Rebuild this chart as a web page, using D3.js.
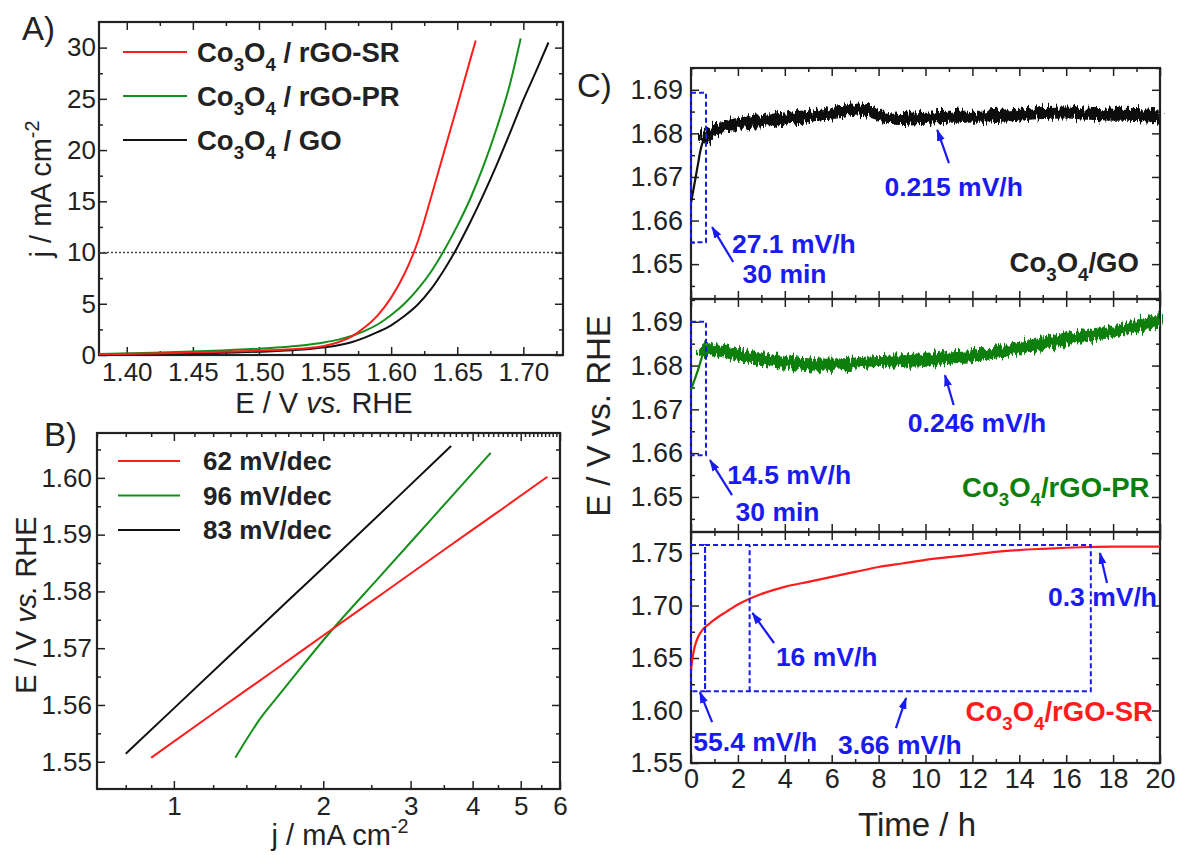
<!DOCTYPE html>
<html>
<head>
<meta charset="utf-8">
<script src="https://cdn.jsdelivr.net/npm/d3@7"></script>
<style>
    body { margin: 0; background: #fff; }
    svg text { font-family: "Liberation Sans", Arial, Helvetica, sans-serif; fill: #222; }
    .tick text { fill: #222; }
    .tick line { stroke: #222; stroke-width: 1.5; }
</style>
</head>
<body>
<svg id="chart" width="1179" height="855"></svg>
<script>
'use strict';

// A) polarization curves: E (V vs. RHE) and j (mA cm-2)
var lsvE_SR = [1.379, 1.42, 1.46, 1.50, 1.53, 1.55, 1.56, 1.57, 1.58, 1.59, 1.60, 1.61, 1.62, 1.63, 1.64, 1.65, 1.66, 1.664];
var lsvJ_SR = [0.08, 0.15, 0.28, 0.42, 0.6, 0.9, 1.25, 1.8, 2.7, 3.9, 5.6, 7.9, 11.0, 15.3, 19.8, 24.3, 28.9, 30.7];
var lsvE_PR = [1.379, 1.42, 1.46, 1.50, 1.53, 1.55, 1.56, 1.57, 1.58, 1.59, 1.60, 1.61, 1.62, 1.63, 1.64, 1.65, 1.66, 1.67, 1.68, 1.69, 1.698];
var lsvJ_PR = [0.1, 0.22, 0.38, 0.62, 0.9, 1.25, 1.5, 1.85, 2.35, 3.0, 3.9, 5.0, 6.4, 8.1, 10.2, 12.6, 15.3, 18.5, 22.2, 26.5, 30.9];
var lsvE_GO = [1.379, 1.42, 1.46, 1.50, 1.53, 1.55, 1.56, 1.57, 1.58, 1.59, 1.60, 1.61, 1.62, 1.63, 1.64, 1.65, 1.66, 1.67, 1.68, 1.69, 1.70, 1.71, 1.719];
var lsvJ_GO = [0.05, 0.1, 0.18, 0.32, 0.5, 0.75, 0.95, 1.25, 1.7, 2.25, 2.9, 3.8, 4.9, 6.4, 8.3, 10.5, 13.0, 15.7, 18.6, 21.7, 24.9, 27.8, 30.5];
var lsvNames = ['/ rGO-SR', '/ rGO-PR', '/ GO'];

// B) Tafel plots: j (mA cm-2, log) and E (V vs. RHE)
var tafelJ_SR = [0.90, 1.2, 1.6, 2.05, 2.7, 3.5, 4.5, 5.66];
var tafelE_SR = [1.5507, 1.5585, 1.5662, 1.5729, 1.5803, 1.5873, 1.5940, 1.6002];
var tafelJ_PR = [1.33, 1.41, 1.49, 1.62, 1.80, 2.05, 2.6, 3.3, 4.35];
var tafelE_PR = [1.5507, 1.5543, 1.5575, 1.5615, 1.5665, 1.5725, 1.5826, 1.5927, 1.6044];
var tafelJ_GO = [0.80, 1.0, 1.3, 1.7, 2.2, 2.8, 3.62];
var tafelE_GO = [1.5514, 1.5594, 1.5688, 1.5784, 1.5876, 1.5963, 1.6056];
var tafelSlopes = ['62 mV/dec', '96 mV/dec', '83 mV/dec'];

// C) chronopotentiometry: time (h) and E (V vs. RHE)
var cpT_GO = [0, 0.1, 0.2, 0.3, 0.4, 0.5, 0.7, 1, 1.5, 2, 3, 4, 5, 6, 6.5, 7, 7.5, 8, 8.5, 9, 10, 11, 12, 13, 14, 15, 16, 17, 18, 19, 20];
var cpE_GO = [1.664, 1.667, 1.670, 1.673, 1.676, 1.678, 1.6795, 1.6808, 1.6815, 1.6822, 1.6828, 1.6834, 1.684, 1.6846, 1.685, 1.6855, 1.6852, 1.6844, 1.6835, 1.6833, 1.6836, 1.6838, 1.6838, 1.684, 1.6843, 1.6847, 1.6848, 1.6845, 1.6843, 1.6842, 1.6838];
var cpT_PR = [0, 0.1, 0.3, 0.5, 0.6, 1, 2, 3, 4, 5, 6, 7, 8, 9, 10, 11, 12, 13, 14, 15, 16, 17, 18, 19, 20];
var cpE_PR = [1.6745, 1.676, 1.679, 1.6825, 1.6838, 1.6836, 1.6825, 1.6815, 1.6808, 1.6803, 1.6802, 1.6805, 1.6808, 1.681, 1.6813, 1.6818, 1.6822, 1.683, 1.684, 1.685, 1.686, 1.687, 1.6878, 1.689, 1.6903];
var cpT_SR = [0, 0.05, 0.15, 0.3, 0.5, 0.75, 1, 1.5, 2, 2.5, 3, 4, 5, 6, 7, 8, 9, 10, 11, 12, 13, 14, 15, 16, 17, 18, 19, 20];
var cpE_SR = [1.638, 1.648, 1.660, 1.670, 1.677, 1.682, 1.6865, 1.694, 1.701, 1.7065, 1.711, 1.7178, 1.7225, 1.7273, 1.732, 1.7367, 1.740, 1.7434, 1.746, 1.7485, 1.751, 1.7528, 1.754, 1.755, 1.7557, 1.756, 1.756, 1.756];

var RED = '#ff1c1c', GREEN = '#14901a', GREEN_C = '#0a7f0a', BLACK = '#111', BLUE = '#1a1af2';

var svg = d3.select('#chart');

var defs = svg.append('defs');
defs.append('marker')
    .attr('id', 'arrow')
    .attr('viewBox', '0 0 12 8')
    .attr('refX', 11).attr('refY', 4)
    .attr('markerWidth', 12).attr('markerHeight', 8)
    .attr('markerUnits', 'userSpaceOnUse')
    .attr('orient', 'auto')
    .append('path').attr('d', 'M0,0 L12,4 L0,8 Z').attr('fill', BLUE);

// rough edge for the noisy traces in C)
var jitter = defs.append('filter')
    .attr('id', 'jitter')
    .attr('filterUnits', 'userSpaceOnUse')
    .attr('x', 0).attr('y', 0).attr('width', 1179).attr('height', 855);
jitter.append('feTurbulence')
    .attr('type', 'fractalNoise').attr('baseFrequency', '0.5 0.05')
    .attr('numOctaves', 2).attr('seed', 4).attr('result', 'n');
jitter.append('feDisplacementMap')
    .attr('in', 'SourceGraphic').attr('in2', 'n').attr('scale', 14)
    .attr('xChannelSelector', 'R').attr('yChannelSelector', 'G');

function zip(xs, ys) {
    return xs.map(function (v, i) { return [v, ys[i]]; });
}

function drawAxes(x, y, o) {
    var left = x.range()[0], right = x.range()[1],
        bottom = y.range()[0], top = y.range()[1];

    var g = svg.append('g').style('font-size', o.font + 'px');

    function add(axis, tr) {
        var a = g.append('g').attr('transform', tr).call(axis);
        a.select('.domain').remove();
        a.selectAll('text').style('font-size', o.font + 'px');
        return a;
    }

    add(d3.axisBottom(x).tickValues(o.xMajor).tickSize(-8).tickPadding(o.xPad || 8)
        .tickFormat(o.showX ? o.xFmt : ''), 'translate(0,' + bottom + ')');
    add(d3.axisBottom(x).tickValues(o.xMinor).tickSize(-4).tickFormat(''), 'translate(0,' + bottom + ')');
    add(d3.axisTop(x).tickValues(o.xMajor).tickSize(-8).tickFormat(''), 'translate(0,' + top + ')');
    add(d3.axisTop(x).tickValues(o.xMinorTop || o.xMinor).tickSize(-4).tickFormat(''), 'translate(0,' + top + ')');

    add(d3.axisLeft(y).tickValues(o.yMajor).tickSize(-8).tickPadding(o.yPad || 6)
        .tickFormat(o.yFmt), 'translate(' + left + ',0)');
    add(d3.axisLeft(y).tickValues(o.yMinor).tickSize(-4).tickFormat(''), 'translate(' + left + ',0)');
    add(d3.axisRight(y).tickValues(o.yMajor).tickSize(-8).tickFormat(''), 'translate(' + right + ',0)');
    add(d3.axisRight(y).tickValues(o.yMinor).tickSize(-4).tickFormat(''), 'translate(' + right + ',0)');

    g.append('rect')
        .attr('x', left).attr('y', top)
        .attr('width', right - left).attr('height', bottom - top)
        .attr('fill', 'none').attr('stroke', '#222').attr('stroke-width', 2.2);
}

function chemLabel(sel, tail, size) {
    sel.append('tspan').text('Co');
    sel.append('tspan').attr('dy', size * 0.32).attr('font-size', size * 0.68).text('3');
    sel.append('tspan').attr('dy', -size * 0.32).text('O');
    sel.append('tspan').attr('dy', size * 0.32).attr('font-size', size * 0.68).text('4');
    sel.append('tspan').attr('dy', -size * 0.32).text(tail);
    return sel;
}

function potentialLabel(sel, italic) {
    sel.append('tspan').text('E / V ');
    sel.append('tspan').attr('font-style', italic === false ? 'normal' : 'italic').text('vs.');
    sel.append('tspan').text(' RHE');
    return sel;
}

function currentLabel(sel, size) {
    sel.append('tspan').text('j / mA cm');
    sel.append('tspan').attr('dy', -size * 0.4).attr('font-size', size * 0.68).text('-2');
    return sel;
}

function panelTag(x, y, s) {
    svg.append('text').attr('x', x).attr('y', y)
        .style('font-size', '33px').text(s);
}

function trace(x, y, pts, color, width, curve) {
    return svg.append('path')
        .datum(pts)
        .attr('fill', 'none')
        .attr('stroke', color)
        .attr('stroke-width', width)
        .attr('stroke-linejoin', 'round')
        .attr('d', d3.line()
            .x(function (d) { return x(d[0]); })
            .y(function (d) { return y(d[1]); })
            .curve(curve || d3.curveMonotoneX));
}

/* ---------- A) ---------- */
var xA = d3.scaleLinear().domain([1.379, 1.730]).range([99, 563]);
var yA = d3.scaleLinear().domain([0, 32.5]).range([355, 22]);

drawAxes(xA, yA, {
    font: 26,
    xMajor: d3.range(1.40, 1.701, 0.05), xMinor: d3.range(1.425, 1.73, 0.05),
    showX: true, xFmt: d3.format('.2f'), xPad: 8,
    yMajor: d3.range(0, 31, 5), yMinor: d3.range(2.5, 32.5, 5),
    yFmt: d3.format('d'), yPad: 3
});

svg.append('line')
    .attr('x1', xA.range()[0]).attr('x2', xA.range()[1])
    .attr('y1', yA(10)).attr('y2', yA(10))
    .attr('stroke', '#444').attr('stroke-width', 1.5).attr('stroke-dasharray', '2,2');

trace(xA, yA, zip(lsvE_GO, lsvJ_GO), BLACK, 2);
trace(xA, yA, zip(lsvE_PR, lsvJ_PR), GREEN, 2);
trace(xA, yA, zip(lsvE_SR, lsvJ_SR), RED, 2);

[RED, GREEN, BLACK].forEach(function (c, i) {
    var yy = 52 + i * 44;
    svg.append('line').attr('x1', 123).attr('x2', 187).attr('y1', yy).attr('y2', yy)
        .attr('stroke', c).attr('stroke-width', 2);
    chemLabel(svg.append('text').attr('x', 197).attr('y', yy + 10)
        .style('font-size', '27.5px').style('font-weight', 'bold'), ' ' + lsvNames[i], 27.5);
});

panelTag(22, 40, 'A)');
svg.append('text').attr('x', 324).attr('y', 413).attr('text-anchor', 'middle')
    .style('font-size', '29px').call(potentialLabel);
svg.append('text').attr('transform', 'translate(51,189) rotate(-90)').attr('text-anchor', 'middle')
    .style('font-size', '29px').call(currentLabel, 29);

/* ---------- B) ---------- */
var xB = d3.scaleLog().domain([0.7, 6.0]).range([97, 560]);
var yB = d3.scaleLinear().domain([1.5452, 1.6079]).range([789, 433]);

drawAxes(xB, yB, {
    font: 26,
    xMajor: [1, 2, 3, 4, 5, 6],
    xMinor: [0.8, 0.9, 1.2, 1.4, 1.6, 1.8, 2.5, 3.5, 4.5, 5.5],
    xMinorTop: d3.range(0.7, 6.0, 0.1).filter(function (v) { return Math.abs(v - Math.round(v)) > 0.01; }),
    showX: true, xFmt: d3.format('d'), xPad: 8,
    yMajor: d3.range(1.55, 1.6001, 0.01), yMinor: d3.range(1.555, 1.6075, 0.01),
    yFmt: d3.format('.2f'), yPad: 5
});

trace(xB, yB, zip(tafelJ_GO, tafelE_GO), BLACK, 2);
trace(xB, yB, zip(tafelJ_PR, tafelE_PR), GREEN, 2);
trace(xB, yB, zip(tafelJ_SR, tafelE_SR), RED, 2);

[RED, GREEN, BLACK].forEach(function (c, i) {
    var yy = 461 + i * 34.5;
    svg.append('line').attr('x1', 118).attr('x2', 180).attr('y1', yy).attr('y2', yy)
        .attr('stroke', c).attr('stroke-width', 2);
    svg.append('text').attr('x', 203).attr('y', yy + 9)
        .style('font-size', '26px').style('font-weight', 'bold').text(tafelSlopes[i]);
});

panelTag(44, 446, 'B)');
svg.append('text').attr('x', 340).attr('y', 845).attr('text-anchor', 'middle')
    .style('font-size', '29px').call(currentLabel, 29);
svg.append('text').attr('transform', 'translate(36,605) rotate(-90)').attr('text-anchor', 'middle')
    .style('font-size', '29px').call(potentialLabel);

/* ---------- C) ---------- */
var xC = d3.scaleLinear().domain([0, 20]).range([691, 1160]);
var yC1 = d3.scaleLinear().domain([1.642, 1.695]).range([299, 68]);
var yC2 = d3.scaleLinear().domain([1.642, 1.6952]).range([532, 299]);
var yC3 = d3.scaleLinear().domain([1.55, 1.77]).range([763, 532]);

var cx = { font: 27, xMajor: d3.range(0, 21, 2), xMinor: d3.range(1, 20, 2), xFmt: d3.format('d'), xPad: 6 };

drawAxes(xC, yC1, Object.assign({}, cx, {
    showX: false, yMajor: d3.range(1.65, 1.6901, 0.01), yMinor: d3.range(1.645, 1.695, 0.01),
    yFmt: d3.format('.2f'), yPad: 8
}));
drawAxes(xC, yC2, Object.assign({}, cx, {
    showX: false, yMajor: d3.range(1.65, 1.6901, 0.01), yMinor: d3.range(1.645, 1.695, 0.01),
    yFmt: d3.format('.2f'), yPad: 8
}));
drawAxes(xC, yC3, Object.assign({}, cx, {
    showX: true, yMajor: d3.range(1.55, 1.7501, 0.05), yMinor: d3.range(1.575, 1.77, 0.05),
    yFmt: d3.format('.2f'), yPad: 8
}));

function noisy(y, ts, es, color) {
    var pts = zip(ts, es);
    trace(xC, y, pts.filter(function (d) { return d[0] <= 0.7; }), color, 2.2);
    trace(xC, y, pts.filter(function (d) { return d[0] >= 0.5; }), color, 12)
        .attr('filter', 'url(#jitter)');
}

noisy(yC1, cpT_GO, cpE_GO, BLACK);
noisy(yC2, cpT_PR, cpE_PR, GREEN_C);
trace(xC, yC3, zip(cpT_SR, cpE_SR), RED, 2.2);

function box(y, t0, t1, e0, e1) {
    svg.append('rect')
        .attr('x', xC(t0)).attr('y', y(e1))
        .attr('width', xC(t1) - xC(t0)).attr('height', y(e0) - y(e1))
        .attr('fill', 'none').attr('stroke', BLUE).attr('stroke-width', 2)
        .attr('stroke-dasharray', '5,3');
}

function vline(y, t, e0, e1) {
    svg.append('line')
        .attr('x1', xC(t)).attr('x2', xC(t)).attr('y1', y(e0)).attr('y2', y(e1))
        .attr('stroke', BLUE).attr('stroke-width', 2).attr('stroke-dasharray', '5,3');
}

function arrow(y, t0, e0, t1, e1) {
    svg.append('line')
        .attr('x1', xC(t0)).attr('y1', y(e0)).attr('x2', xC(t1)).attr('y2', y(e1))
        .attr('stroke', BLUE).attr('stroke-width', 2.2).attr('marker-end', 'url(#arrow)');
}

function note(y, t, e, s, anchor) {
    return svg.append('text').attr('x', xC(t)).attr('y', y(e))
        .attr('text-anchor', anchor || 'start')
        .style('font-size', '26.5px').style('font-weight', 'bold').style('fill', BLUE).text(s);
}

// top: Co3O4/GO
box(yC1, 0, 0.64, 1.655, 1.6893);
arrow(yC1, 1.8, 1.6505, 0.9, 1.6585);
arrow(yC1, 11.0, 1.6732, 10.5, 1.6808);
note(yC1, 1.75, 1.6526, '27.1 mV/h');
note(yC1, 2.2, 1.6457, '30 min');
note(yC1, 11.2, 1.6656, '0.215 mV/h', 'middle');
chemLabel(svg.append('text').attr('x', xC(19.1)).attr('y', yC1(1.6482)).attr('text-anchor', 'end')
    .style('font-size', '27.5px').style('font-weight', 'bold'), '/GO', 27.5);

// middle: Co3O4/rGO-PR
box(yC2, 0, 0.64, 1.6595, 1.69);
arrow(yC2, 1.75, 1.6504, 0.81, 1.6584);
arrow(yC2, 11.2, 1.6710, 10.83, 1.6778);
note(yC2, 1.55, 1.653, '14.5 mV/h');
note(yC2, 1.9, 1.6445, '30 min');
note(yC2, 12.2, 1.6648, '0.246 mV/h', 'middle');
chemLabel(svg.append('text').attr('x', xC(19.55)).attr('y', yC2(1.650)).attr('text-anchor', 'end')
    .style('font-size', '27.5px').style('font-weight', 'bold').style('fill', GREEN_C), '/rGO-PR', 27.5);

// bottom: Co3O4/rGO-SR
box(yC3, 0, 0.6, 1.6183, 1.7576);
box(yC3, 0.6, 17.05, 1.6183, 1.7576);
vline(yC3, 2.5, 1.6183, 1.7576);
arrow(yC3, 0.9, 1.589, 0.38, 1.6176);
arrow(yC3, 3.54, 1.6643, 2.62, 1.6929);
arrow(yC3, 8.74, 1.5833, 9.17, 1.6119);
arrow(yC3, 17.74, 1.7214, 17.44, 1.75);
note(yC3, 0.1, 1.5614, '55.4 mV/h');
note(yC3, 6.27, 1.5586, '3.66 mV/h');
note(yC3, 3.62, 1.6424, '16 mV/h');
note(yC3, 19.87, 1.6995, '0.3 mV/h', 'end');
chemLabel(svg.append('text').attr('x', xC(19.7)).attr('y', yC3(1.59)).attr('text-anchor', 'end')
    .style('font-size', '27.5px').style('font-weight', 'bold').style('fill', RED), '/rGO-SR', 27.5);

panelTag(577, 97, 'C)');
svg.append('text').attr('x', 917).attr('y', 836).attr('text-anchor', 'middle')
    .style('font-size', '33px').text('Time / h');
svg.append('text').attr('transform', 'translate(610,416) rotate(-90)').attr('text-anchor', 'middle')
    .style('font-size', '33px').call(potentialLabel, false);
</script>
</body>
</html>
